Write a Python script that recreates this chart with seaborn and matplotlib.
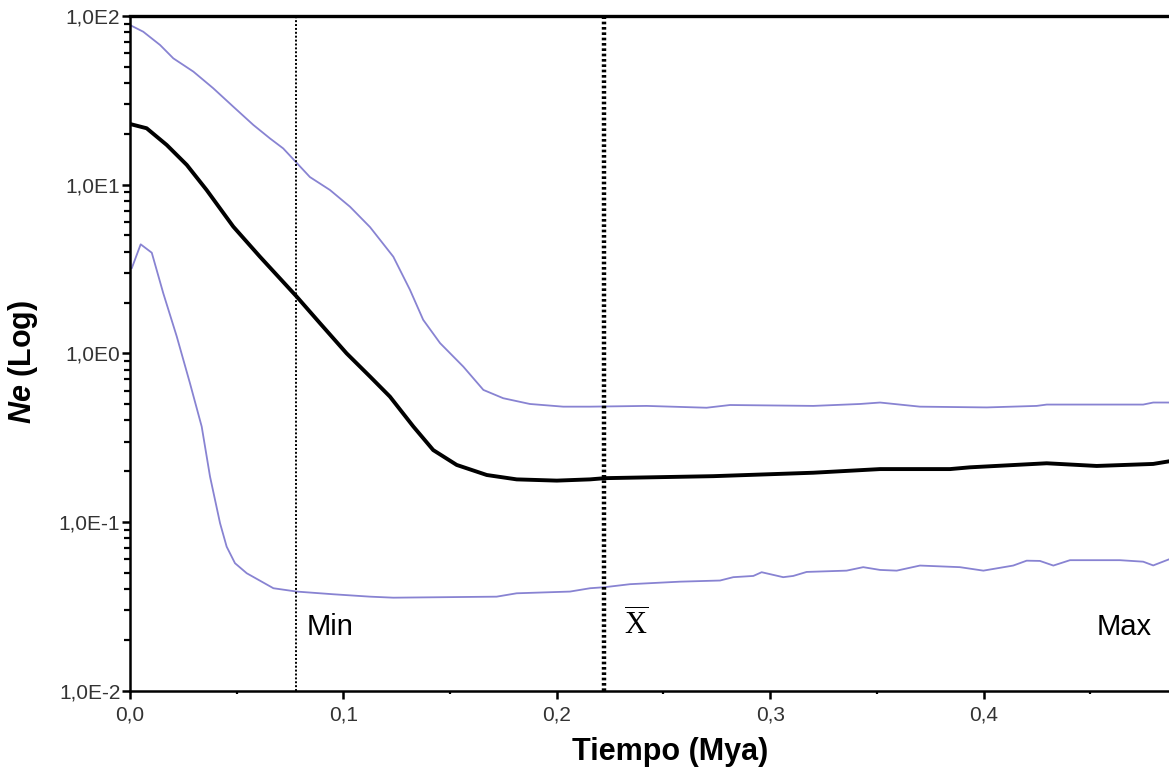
import matplotlib
matplotlib.use("Agg")
from matplotlib import pyplot as plt
from matplotlib import ticker
from matplotlib import transforms
import pandas as pd
import seaborn as sns

# valeurs (temps en Mya, Ne)
tiempo_sup = [0.0, 0.0062, 0.0141, 0.0203, 0.0297, 0.039, 0.0484, 0.0578, 0.0656,
              0.0718, 0.0778, 0.0843, 0.0937, 0.1031, 0.1125, 0.1234, 0.1312,
              0.1374, 0.1453, 0.1562, 0.1656, 0.1749, 0.1874, 0.203, 0.2156,
              0.2421, 0.2702, 0.2812, 0.3202, 0.3421, 0.3515, 0.3702, 0.4015,
              0.4249, 0.4296, 0.4748, 0.4795, 0.4869]
ne_sup = [88.4, 80.7, 67.3, 56.1, 46.8, 37.3, 29.0, 22.6, 18.8, 16.4, 13.6, 11.1,
          9.3, 7.4, 5.6, 3.74, 2.38, 1.58, 1.15, 0.834, 0.607, 0.542, 0.501,
          0.483, 0.483, 0.488, 0.476, 0.494, 0.488, 0.501, 0.511, 0.483, 0.478,
          0.488, 0.497, 0.497, 0.511, 0.511]

tiempo_media = [0.0, 0.0078, 0.0172, 0.0266, 0.0359, 0.0484, 0.0609, 0.0781,
                0.089, 0.1015, 0.1125, 0.1218, 0.1328, 0.1421, 0.1531, 0.1672,
                0.1812, 0.2, 0.2156, 0.2226, 0.2733, 0.3202, 0.3515, 0.3843,
                0.3936, 0.4296, 0.453, 0.4795, 0.4869]
ne_media = [22.9, 21.6, 17.2, 13.1, 9.3, 5.64, 3.74, 2.17, 1.51, 1.0, 0.728,
            0.554, 0.368, 0.267, 0.218, 0.19, 0.179, 0.176, 0.179, 0.182, 0.187,
            0.196, 0.206, 0.206, 0.211, 0.223, 0.215, 0.221, 0.229]

tiempo_inf = [0.0008, 0.005, 0.0102, 0.0156, 0.0219, 0.0281, 0.0336, 0.0375,
              0.0422, 0.0453, 0.0492, 0.0547, 0.0672, 0.0781, 0.0953, 0.1125,
              0.1234, 0.1718, 0.1812, 0.2062, 0.2156, 0.2226, 0.2343, 0.2577,
              0.2765, 0.2827, 0.2921, 0.296, 0.3061, 0.3108, 0.3171, 0.3358,
              0.3436, 0.3515, 0.3593, 0.3702, 0.3889, 0.3999, 0.4139, 0.4202,
              0.4264, 0.4327, 0.4405, 0.4639, 0.4748, 0.4795, 0.4869]
ne_inf = [3.19, 4.43, 3.95, 2.27, 1.26, 0.665, 0.368, 0.186, 0.0984, 0.0714,
          0.057, 0.0497, 0.0405, 0.0387, 0.0373, 0.0361, 0.0356, 0.0361, 0.0378,
          0.0387, 0.0405, 0.0411, 0.0428, 0.0443, 0.045, 0.0471, 0.0479, 0.0504,
          0.0471, 0.0479, 0.0506, 0.0515, 0.054, 0.052, 0.0515, 0.0552, 0.054,
          0.0515, 0.0552, 0.059, 0.0588, 0.0552, 0.0594, 0.0594, 0.0582, 0.0553,
          0.0601]

lineas = {"Min": 0.0778, "media": 0.2222}

x_ticks = [0.0, 0.1, 0.2, 0.3, 0.4]
x_labels = ["0,0", "0,1", "0,2", "0,3", "0,4"]
y_ticks = [1e-2, 1e-1, 1e0, 1e1, 1e2]
y_labels = ["1,0E-2", "1,0E-1", "1,0E0", "1,0E1", "1,0E2"]


sns.set_style("ticks")
plt.rcParams['font.family'] = ['Liberation Sans', 'DejaVu Sans']
plt.rcParams['mathtext.fontset'] = 'custom'
plt.rcParams['mathtext.rm'] = 'Liberation Serif'
plt.rcParams['mathtext.bfit'] = 'Liberation Sans:italic:bold'

fig = plt.figure(figsize=(11.69, 7.72), dpi=100)
ax = fig.add_axes([130 / 1169, 1 - 690.7 / 772, 1 - 130 / 1169, 674.7 / 772])

violeta = '#8883d2'
df_sup = pd.DataFrame({'t': tiempo_sup, 'ne': ne_sup})
df_med = pd.DataFrame({'t': tiempo_media, 'ne': ne_media})
df_inf = pd.DataFrame({'t': tiempo_inf, 'ne': ne_inf})
sns.lineplot(data=df_sup, x='t', y='ne', color=violeta, lw=1.3, ax=ax)
sns.lineplot(data=df_inf, x='t', y='ne', color=violeta, lw=1.3, ax=ax)
sns.lineplot(data=df_med, x='t', y='ne', color='black', lw=2.8, ax=ax)

ax.axvline(lineas["Min"], color='black', lw=1.4, ls=(0, (1, 1)))
ax.axvline(lineas["media"], color='black', lw=3.2, ls=(0, (0.6, 0.6)))

ax.set_yscale('log')
ax.set_xlim(0, 0.4869)
ax.set_ylim(1e-2, 1e2)
ax.set_xticks(x_ticks)
ax.set_xticklabels(x_labels)
ax.set_yticks(y_ticks)
ax.set_yticklabels(y_labels)
ax.xaxis.set_minor_locator(ticker.MultipleLocator(0.05))
ax.yaxis.set_minor_locator(ticker.LogLocator(base=10, subs=range(2, 10)))
ax.yaxis.set_minor_formatter(ticker.NullFormatter())

ax.tick_params(axis='both', which='major', direction='out', length=6, width=1.8,
               color='black', labelsize=15, labelcolor='#333333')
ax.tick_params(axis='y', which='major', pad=1)
ax.tick_params(axis='x', which='major', pad=5)
ax.tick_params(axis='y', which='minor', direction='out', length=4, width=1.6,
               color='black')
ax.tick_params(axis='x', which='minor', direction='out', length=2, width=1.6,
               color='black')

for lado in ['left', 'bottom']:
    ax.spines[lado].set_linewidth(1.8)
    ax.spines[lado].set_color('black')
ax.spines['top'].set_linewidth(2.4)
ax.spines['top'].set_color('black')
ax.spines['right'].set_visible(False)

ax.set_xlabel('Tiempo (Mya)', fontsize=22, fontweight='bold', color='black')
ax.set_ylabel(r'$\mathbfit{Ne}$ (Log)', fontsize=22, fontweight='bold',
              color='black')
ax.xaxis.set_label_coords(0.52, -0.068)
ax.yaxis.set_label_coords(-0.087, 0.487)

trans = transforms.blended_transform_factory(ax.transData, ax.transAxes)
ax.text(lineas["Min"] + 0.005, 0.083, 'Min', transform=trans, fontsize=21,
        va='baseline', ha='left', color='black')
ax.text(lineas["media"] + 0.0095, 0.083, r'$\overline{\mathrm{X}}$',
        transform=trans, fontsize=22, va='baseline', ha='left', color='black')
ax.text(0.4788, 0.083, 'Max', transform=trans, fontsize=21,
        va='baseline', ha='right', color='black')

plt.savefig('out.png', dpi=100)
